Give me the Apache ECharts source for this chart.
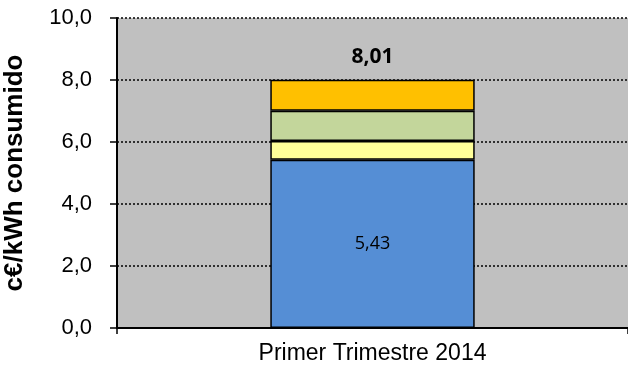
<!DOCTYPE html>
<html><head><meta charset="utf-8">
<script src="https://cdn.jsdelivr.net/npm/echarts@6/dist/echarts.min.js"></script>
<style>html,body{margin:0;padding:0;background:#fff}#c{width:628px;height:370px}</style>
</head><body><div id="c"></div>
<script>
var categories = ['Primer Trimestre 2014'];
var seg1 = [5.43];
var seg2 = [0.60];
var seg3 = [0.98];
var seg4 = [1.00];
var totals = [8.01];
var yTicks = [0, 2, 4, 6, 8, 10];

function fmt(v, d) { return v.toFixed(d).replace('.', ','); }
var border = { borderColor: '#000', borderWidth: 1.5 };
var chart = echarts.init(document.getElementById('c'));
chart.setOption({
  animation: false,
  grid: { left: 117, right: 0, top: 18, bottom: 42, show: true, backgroundColor: '#C0C0C0', borderWidth: 0, containLabel: false, outerBoundsMode: 'none' },
  xAxis: {
    type: 'category', data: categories,
    axisLine: { lineStyle: { color: '#000', width: 2 } },
    axisTick: { show: true, length: 6, lineStyle: { color: '#000', width: 1.5 } },
    axisLabel: { color: '#000', fontFamily: 'Liberation Sans, Arial', fontSize: 23, margin: 14 }
  },
  yAxis: {
    type: 'value', min: yTicks[0], max: yTicks[yTicks.length - 1], interval: 2,
    name: 'c€/kWh consumido', nameLocation: 'middle', nameRotate: 90, nameGap: 89,
    nameTextStyle: { color: '#000', fontFamily: 'Liberation Sans, Arial', fontSize: 26, fontWeight: 'bold' },
    axisLine: { show: true, lineStyle: { color: '#000', width: 2 } },
    axisTick: { show: true, length: 7, lineStyle: { color: '#000', width: 1.5 } },
    axisLabel: { color: '#000', fontFamily: 'Liberation Sans, Arial', fontSize: 22, margin: 25, formatter: function (v) { return fmt(v, 1); } },
    splitLine: { show: true, lineStyle: { color: '#000', type: [2, 2], width: 1.5 } }
  },
  series: [
    { type: 'bar', stack: 't', data: seg1, barWidth: '40%', itemStyle: Object.assign({ color: '#558ED5' }, border),
      label: { show: true, position: 'inside', color: '#000', fontFamily: 'Open Sans, Liberation Sans', fontSize: 18, formatter: function (p) { return fmt(p.value, 2); } } },
    { type: 'bar', stack: 't', data: seg2, itemStyle: Object.assign({ color: '#FFFF99' }, border) },
    { type: 'bar', stack: 't', data: seg3, itemStyle: Object.assign({ color: '#C3D69B' }, border) },
    { type: 'bar', stack: 't', data: seg4, itemStyle: Object.assign({ color: '#FFC000' }, border),
      label: { show: true, position: 'top', distance: 12, color: '#000', fontFamily: 'Open Sans, Liberation Sans', fontWeight: 'bold', fontSize: 21, formatter: function (p) { return fmt(totals[p.dataIndex], 2); } } }
  ]
});
</script></body></html>
